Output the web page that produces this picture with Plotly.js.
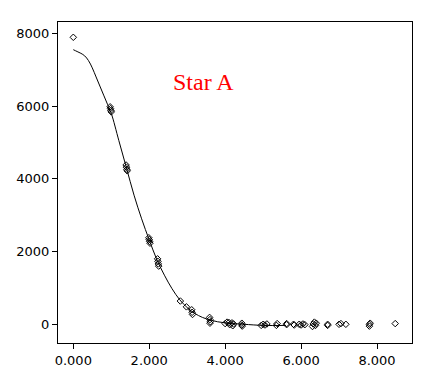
<!DOCTYPE html>
<html>
<head>
<meta charset="utf-8">
<script src="https://cdn.plot.ly/plotly-3.0.1.min.js"></script>
<style>
html,body{margin:0;padding:0;background:#fff;}
#chart{width:428px;height:377px;}
</style>
</head>
<body>
<div id="chart"></div>
<script>
// Observed data points (x, y)
const obsX = [0.0,
  0.97, 0.98, 0.99, 1.0,
  1.39, 1.40, 1.41, 1.42,
  1.99, 2.0, 2.01, 2.02,
  2.22, 2.23, 2.24, 2.25,
  2.82, 2.98,
  3.12, 3.13, 3.14,
  3.59, 3.6, 3.61, 3.6,
  4.0, 4.05, 4.1, 4.12, 4.18, 4.2, 4.22,
  4.44, 4.44, 4.45,
  4.95, 5.0, 5.05, 5.1,
  5.35, 5.37,
  5.62, 5.62,
  5.8, 5.82,
  5.95, 6.0, 6.05, 6.1,
  6.3, 6.32, 6.35, 6.38, 6.4,
  6.7, 6.7,
  7.0, 7.05, 7.18,
  7.8, 7.8, 7.82,
  8.48];
const obsY = [7890,
  5980, 5930, 5880, 5840,
  4380, 4320, 4260, 4220,
  2380, 2330, 2280, 2230,
  1800, 1730, 1660, 1600,
  640, 480,
  400, 330, 270,
  190, 130, 70, 30,
  20, 60, 50, -10, 40, -40, 10,
  30, -20, -50,
  -30, 0, -20, 10,
  -30, 20,
  20, -10,
  0, -20,
  0, -20, 10, -10,
  -60, 10, 60, -30, 30,
  0, -30,
  0, 20, 0,
  -50, 0, 30,
  20];

// Fitted curve
const fitX = [0, 0.1, 0.2, 0.3, 0.4, 0.5, 0.6, 0.7, 0.8, 0.9, 1.0, 1.2, 1.4, 1.6, 1.8, 2.0, 2.2, 2.4, 2.6, 2.8, 3.0, 3.2, 3.4, 3.6, 3.8, 4.0, 4.2, 4.5, 5.0, 5.6];
const fitY = [7550, 7500, 7450, 7380, 7250, 7050, 6800, 6550, 6300, 6050, 5800, 5050, 4300, 3550, 2900, 2320, 1780, 1350, 980, 680, 460, 300, 190, 120, 70, 40, 20, 0, -30, -30];

const xTicks = [0, 2, 4, 6, 8];
const xTickText = ['0.000', '2.000', '4.000', '6.000', '8.000'];
const yTicks = [0, 2000, 4000, 6000, 8000];
const yTickText = ['0', '2000', '4000', '6000', '8000'];
const chartTitle = 'Star A';

const traces = [
  {x: fitX, y: fitY, mode: 'lines', type: 'scatter',
   line: {color: '#000', width: 1, shape: 'spline'}, hoverinfo: 'skip'},
  {x: obsX, y: obsY, mode: 'markers', type: 'scatter',
   marker: {symbol: 'diamond-open', size: 5, color: '#000', line: {width: 1, color: '#000'}}}
];

const tickFont = {family: 'DejaVu Sans', size: 13, color: '#000'};
const layout = {
  width: 428, height: 377,
  margin: {l: 58, r: 16, t: 22, b: 34, pad: 0},
  paper_bgcolor: '#fff', plot_bgcolor: '#fff',
  showlegend: false,
  xaxis: {range: [-0.403, 8.922], tickvals: xTicks, ticktext: xTickText,
    showgrid: false, zeroline: false, showline: true, linecolor: '#000', linewidth: 1,
    mirror: true, ticks: 'outside', ticklen: 5, tickcolor: '#000', tickwidth: 1,
    tickfont: tickFont},
  yaxis: {range: [-514, 8311], tickvals: yTicks, ticktext: yTickText,
    showgrid: false, zeroline: false, showline: true, linecolor: '#000', linewidth: 1,
    mirror: true, ticks: 'outside', ticklen: 5, tickcolor: '#000', tickwidth: 1,
    tickfont: tickFont},
  annotations: [{text: chartTitle, x: 3.42, y: 6660, xref: 'x', yref: 'y',
    showarrow: false, xanchor: 'center', yanchor: 'middle',
    font: {family: 'Liberation Serif', size: 24, color: '#ff0000'}}]
};

Plotly.newPlot('chart', traces, layout, {displayModeBar: false, staticPlot: true});
</script>
</body>
</html>
